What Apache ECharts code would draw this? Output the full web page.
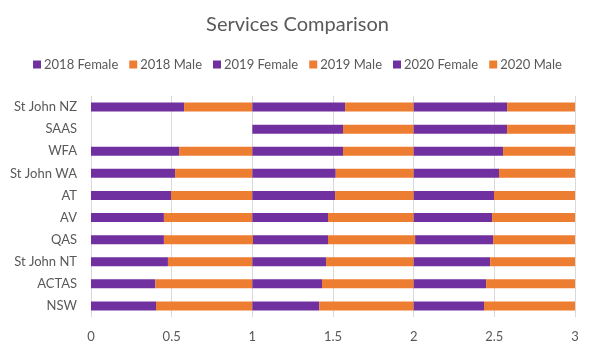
<!DOCTYPE html>
<html>
<head>
<meta charset="utf-8">
<script src="https://cdn.jsdelivr.net/npm/echarts@6/dist/echarts.min.js"></script>
<style>
  html, body { margin: 0; padding: 0; background: #fff; }
  #chart { width: 595px; height: 354px; }
</style>
</head>
<body>
<div id="chart"></div>
<script>
// categories top to bottom
const services = ['St John NZ', 'SAAS', 'WFA', 'St John WA', 'AT', 'AV', 'QAS', 'St John NT', 'ACTAS', 'NSW'];
const seriesNames = ['2018 Female', '2018 Male', '2019 Female', '2019 Male', '2020 Female', '2020 Male'];

// SAAS has no 2018 data, its 2018 slot is left empty
const empty2018  = [0, 1, 0, 0, 0, 0, 0, 0, 0, 0];
const female2018 = [0.577, 0, 0.546, 0.521, 0.496, 0.452, 0.452, 0.477, 0.399, 0.403];
const male2018   = [0.423, 0, 0.454, 0.479, 0.504, 0.548, 0.552, 0.523, 0.601, 0.597];
const female2019 = [0.575, 0.562, 0.562, 0.517, 0.513, 0.469, 0.465, 0.457, 0.432, 0.415];
const male2019   = [0.425, 0.438, 0.438, 0.483, 0.487, 0.531, 0.540, 0.543, 0.568, 0.585];
const female2020 = [0.579, 0.579, 0.554, 0.529, 0.498, 0.486, 0.483, 0.474, 0.449, 0.436];
const male2020   = [0.421, 0.421, 0.446, 0.471, 0.502, 0.514, 0.515, 0.526, 0.551, 0.564];

const values = [female2018, male2018, female2019, male2019, female2020, male2020];
const purple = '#7030A0';
const orange = '#ED7D31';
const font = 'Lato, "Open Sans", sans-serif';

const seriesArr = [{
  name: 'empty',
  type: 'bar',
  stack: 'total',
  barWidth: 9,
  silent: true,
  itemStyle: { color: 'rgba(0,0,0,0)' },
  data: empty2018
}].concat(seriesNames.map((name, i) => ({
  name: name,
  type: 'bar',
  stack: 'total',
  barWidth: 9,
  itemStyle: { color: i % 2 === 0 ? purple : orange },
  data: values[i]
})));

const chart = echarts.init(document.getElementById('chart'));
chart.setOption({
  animation: false,
  title: {
    text: 'Services Comparison',
    left: 'center',
    top: 10,
    textStyle: { fontFamily: font, fontSize: 20, fontWeight: 'normal', color: '#595959' }
  },
  legend: {
    top: 53,
    left: 'center',
    itemWidth: 8,
    itemHeight: 8,
    itemGap: 11,
    icon: 'rect',
    textStyle: { fontFamily: font, fontSize: 13, color: '#595959', padding: [0, 0, 0, -2] },
    data: seriesNames
  },
  grid: { left: 91, right: 20, top: 96, bottom: 37 },
  xAxis: {
    type: 'value',
    min: 0,
    max: 3,
    interval: 0.5,
    axisLine: { show: false },
    axisTick: { show: false },
    splitLine: { lineStyle: { color: '#d9d9d9' } },
    axisLabel: { fontFamily: font, fontSize: 13, color: '#595959', margin: 13 }
  },
  yAxis: {
    type: 'category',
    inverse: true,
    data: services,
    axisLine: { show: false },
    axisTick: { show: false },
    axisLabel: { fontFamily: font, fontSize: 13, color: '#595959', margin: 14 }
  },
  series: seriesArr
});
</script>
</body>
</html>
